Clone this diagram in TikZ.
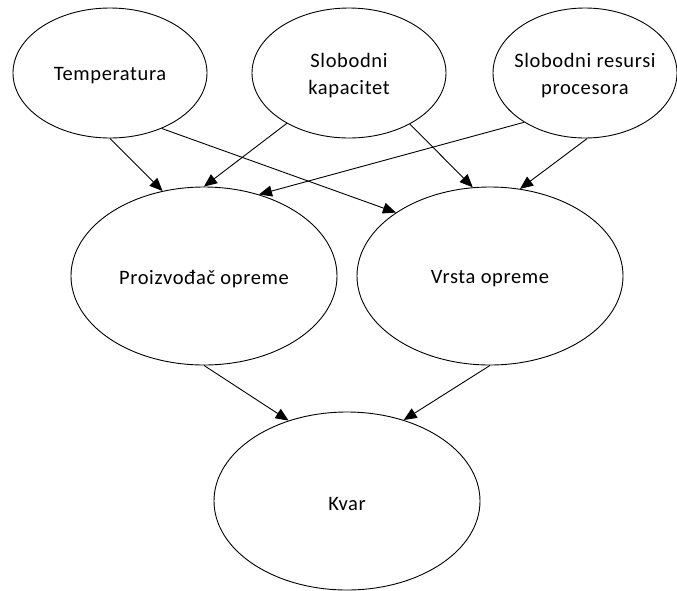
\documentclass[tikz,border=0pt]{standalone}
\usepackage{fontspec}
\setmainfont{Carlito}[LetterSpace=3.0]
\usetikzlibrary{shapes.geometric,arrows.meta}
\tikzset{
  ell/.style={ellipse, draw, line width=0.9pt, inner sep=0pt},
  small/.style={ell, minimum width=194pt, minimum height=130pt},
  big/.style={ell, minimum width=266pt, minimum height=178pt},
  lbl/.style={font=\fontsize{20.5}{27}\selectfont, align=center, text=black, inner sep=0pt, yshift=-3pt},
  arr/.style={line width=0.9pt, -{Triangle[length=13pt,width=11pt]}}
}
\begin{document}
\begin{tikzpicture}[x=1pt,y=-1pt]
\useasboundingbox (0,0) rectangle (677,590);
\node[small, label={[lbl]center:Temperatura}] (temp) at (110,73) {};
\node[small, label={[lbl]center:Slobodni\\kapacitet}] (kap) at (349,73) {};
\node[small, minimum width=184pt, label={[lbl]center:Slobodni resursi\\procesora}] (res) at (585,73) {};
\node[big, label={[lbl]center:Proizvođač opreme}] (proiz) at (204,276) {};
\node[big, label={[lbl]center:Vrsta opreme}] (vrsta) at (490,276) {};
\node[big, label={[lbl]center:Kvar}] (kvar) at (347,501) {};
\draw[arr] (temp.-90) -- (proiz.116);
\draw[arr] (temp.-47.7) -- (vrsta.146.4);
\draw[arr] (kap.-141.6) -- (proiz.90);
\draw[arr] (kap.-40.9) -- (vrsta.101.4);
\draw[arr] (res.-141.7) -- (proiz.56.3);
\draw[arr] (res.-88) -- (vrsta.71);
\draw[arr] (proiz.-90) -- (kvar.126);
\draw[arr] (vrsta.-90) -- (kvar.55.7);
\end{tikzpicture}
\end{document}
